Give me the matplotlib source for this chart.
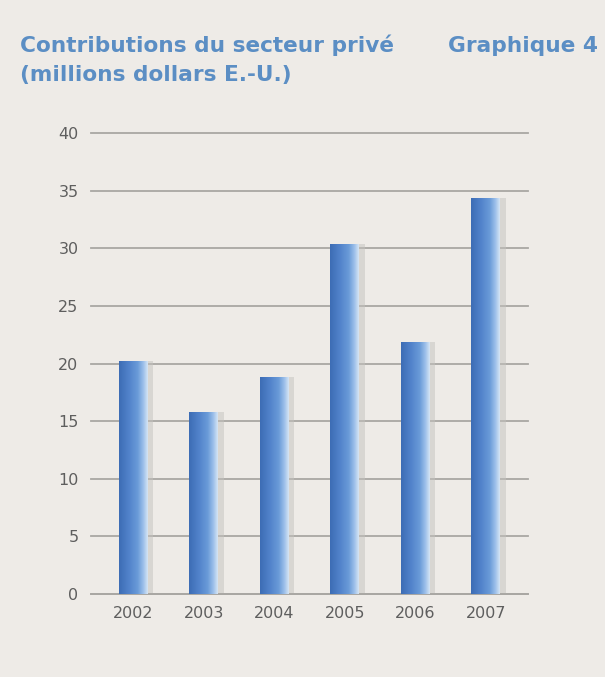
import matplotlib

matplotlib.use("Agg")
import matplotlib.pyplot as plt
import numpy as np
from matplotlib.colors import LinearSegmentedColormap

# Données (millions de dollars E.-U.)
years = ["2002", "2003", "2004", "2005", "2006", "2007"]
contributions = [20.2, 15.8, 18.8, 30.4, 21.9, 34.4]
y_ticks = [0, 5, 10, 15, 20, 25, 30, 35, 40]

BG = "#eeebe7"
TITLE_BLUE = "#5b8ec4"
GRID = "#a9a7a3"

fig = plt.figure(figsize=(6.05, 6.77), dpi=100, facecolor=BG)
ax = fig.add_axes([91 / 605, 83 / 677, 437 / 605, 461 / 677])
ax.set_facecolor(BG)

x = np.arange(len(years))
bars = ax.bar(x, contributions, width=0.41, color="none", zorder=3)

# dégradé horizontal pour donner l'effet cylindre
cmap = LinearSegmentedColormap.from_list(
    "cyl", [(0.0, "#3d6db5"), (0.35, "#5283cb"), (0.65, "#6a9bd8"),
            (0.85, "#9dc0ea"), (1.0, "#d4e4f4")])
grad = np.linspace(0, 1, 64).reshape(1, -1)
for b in bars:
    x0, w, h = b.get_x(), b.get_width(), b.get_height()
    # ombre légère à droite
    ax.bar(x0 + w / 2 + 0.08, h, width=w, color="#c4c2be", alpha=0.5,
           zorder=2, linewidth=0)
    im = ax.imshow(grad, cmap=cmap, aspect="auto", zorder=4,
                   extent=(x0, x0 + w, 0, h))
    im.set_clip_path(b)

ax.set_xlim(-0.6, 5.6)
ax.set_ylim(0, 40)
ax.set_yticks(y_ticks)
ax.set_xticks(x)
ax.set_xticklabels(years)
ax.yaxis.grid(True, color=GRID, linewidth=1.3, zorder=1)
for gl in ax.get_ygridlines():
    gl.set_clip_on(False)
ax.set_axisbelow(True)
for s in ["top", "right", "left"]:
    ax.spines[s].set_visible(False)
ax.spines["bottom"].set_color(GRID)
ax.spines["bottom"].set_linewidth(1.3)
ax.tick_params(axis="both", length=0, labelsize=11.5, labelcolor="#5e5e5e")
ax.tick_params(axis="y", pad=9)
ax.tick_params(axis="x", pad=9)

fig.text(20 / 605, 1 - 52 / 677, "Contributions du secteur privé",
         color=TITLE_BLUE, fontsize=15.6, fontweight="bold")
fig.text(20 / 605, 1 - 81 / 677, "(millions dollars E.-U.)",
         color=TITLE_BLUE, fontsize=15.6, fontweight="bold")
fig.text(598 / 605, 1 - 52 / 677, "Graphique 4", ha="right",
         color=TITLE_BLUE, fontsize=15.6, fontweight="bold")

fig.savefig("out.png", dpi=100, facecolor=BG)
